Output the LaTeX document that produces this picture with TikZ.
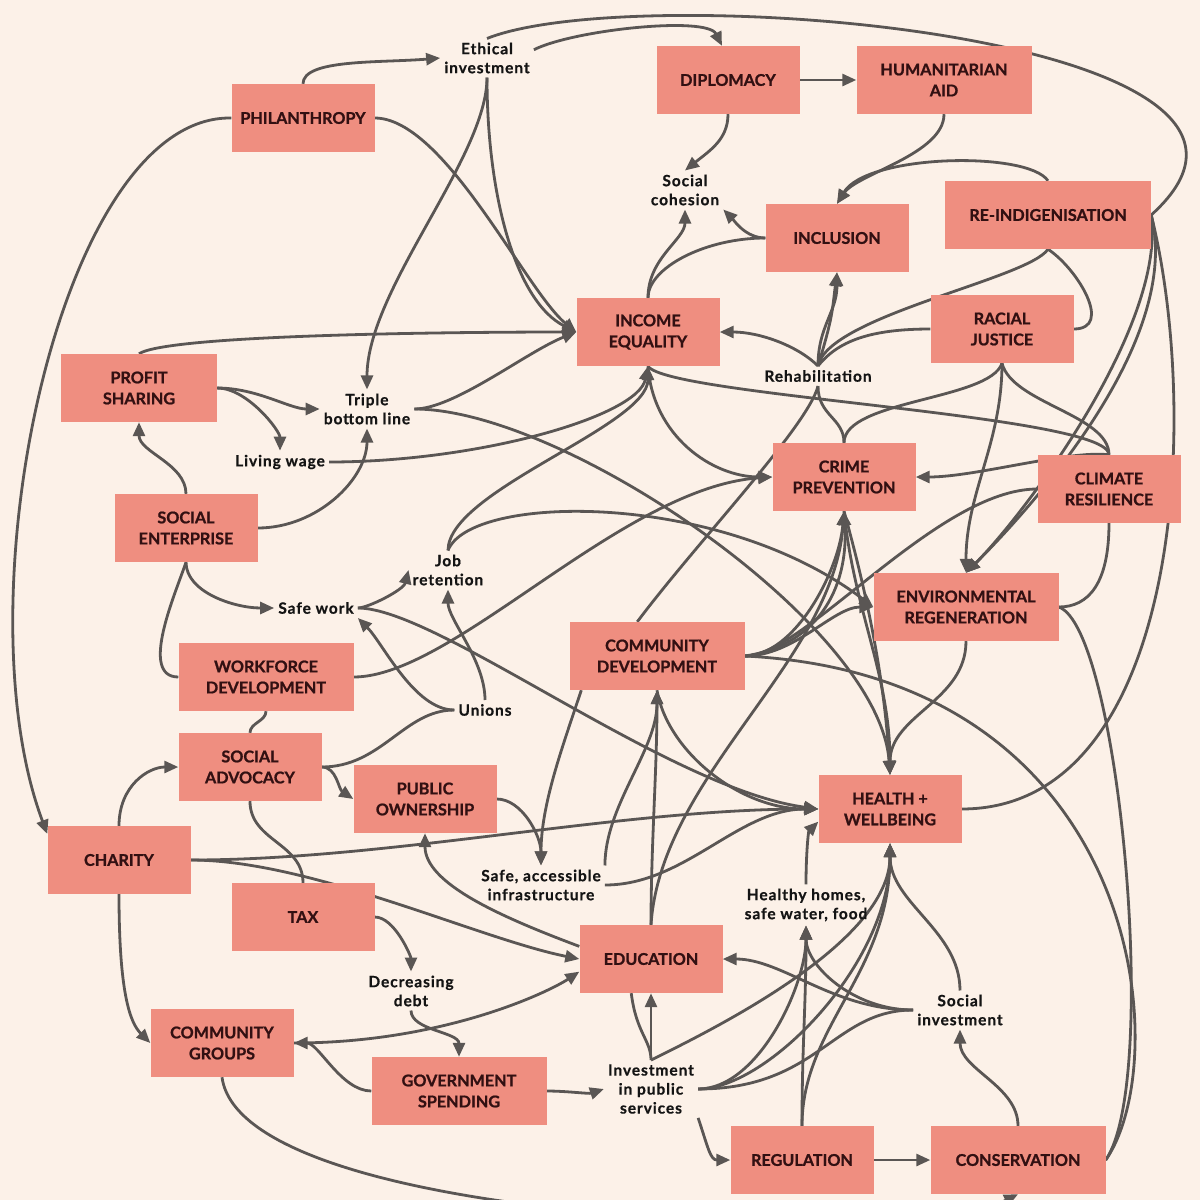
\documentclass[tikz,border=0pt]{standalone}
\usepackage{fontspec}
\setmainfont{Lato}
\usetikzlibrary{arrows.meta}
\definecolor{bgc}{RGB}{252,241,232}
\definecolor{boxc}{RGB}{239,142,128}
\definecolor{boxtext}{RGB}{50,16,18}
\definecolor{linec}{RGB}{90,86,84}
\pgfdeclarelayer{back}
\pgfdeclarelayer{links}
\pgfsetlayers{back,links,main}
\tikzset{
  box/.style={fill=boxc, text=boxtext, minimum width=143pt, minimum height=68pt,
    align=center, inner sep=0pt,
    font=\bfseries\addfontfeatures{FakeBold=1}\fontsize{16.2}{21}\selectfont},
  wbox/.style={box, minimum width=175pt},
  lab/.style={align=center, inner sep=4pt, text=black!92,
    font=\bfseries\addfontfeatures{LetterSpace=6,FakeBold=0.6}\fontsize{15.5}{19}\selectfont},
  link/.style={draw=linec, line width=2.8pt},
  arr/.style={link, -{Triangle[length=14pt,width=12pt]}}
}
\begin{document}
\begin{tikzpicture}[x=1pt,y=-1pt]
\begin{pgfonlayer}{back}
\fill[bgc] (0,0) rectangle (1200,1200);
\end{pgfonlayer}
\useasboundingbox (0,0) rectangle (1200,1200);
% boxes
\node[box] (phil) at (303,118) {PHILANTHROPY};
\node[box] (dipl) at (728,80) {DIPLOMACY};
\node[wbox] (human) at (944,80) {HUMANITARIAN\\AID};
\node[box] (incl) at (837,238) {INCLUSION};
\node[box, minimum width=206pt] (reind) at (1048,215) {RE-INDIGENISATION};
\node[box] (income) at (648,332) {INCOME\\EQUALITY};
\node[box] (racial) at (1002,329) {RACIAL\\JUSTICE};
\node[box, minimum width=156pt] (profit) at (139,388) {PROFIT\\SHARING};
\node[box] (crime) at (844,477) {CRIME\\PREVENTION};
\node[box] (climate) at (1109,489) {CLIMATE\\RESILIENCE};
\node[box] (socent) at (186,528) {SOCIAL\\ENTERPRISE};
\node[box, minimum width=185pt] (envreg) at (966,607) {ENVIRONMENTAL\\REGENERATION};
\node[wbox] (commdev) at (657,656) {COMMUNITY\\DEVELOPMENT};
\node[wbox] (workf) at (266,677) {WORKFORCE\\DEVELOPMENT};
\node[box] (socadv) at (250,767) {SOCIAL\\ADVOCACY};
\node[box] (pubown) at (425,799) {PUBLIC\\OWNERSHIP};
\node[box] (health) at (890,809) {HEALTH +\\WELLBEING};
\node[box] (charity) at (119,860) {CHARITY};
\node[box] (tax) at (303,917) {TAX};
\node[box] (educ) at (651,959) {EDUCATION};
\node[box] (commgr) at (222,1043) {COMMUNITY\\GROUPS};
\node[wbox] (govsp) at (459,1091) {GOVERNMENT\\SPENDING};
\node[box] (regul) at (802,1160) {REGULATION};
\node[wbox] (conserv) at (1018,1160) {CONSERVATION};
% plain labels
\node[lab] (ethic) at (487,58) {Ethical\\investment};
\node[lab] (cohes) at (685,190) {Social\\cohesion};
\node[lab] (triple) at (367,409) {Triple\\bottom line};
\node[lab] (living) at (280,462) {Living wage};
\node[lab] (rehab) at (818,376) {Rehabilitation};
\node[lab] (jobret) at (448,570) {Job\\retention};
\node[lab] (safework) at (316,608) {Safe work};
\node[lab] (unions) at (485,710) {Unions};
\node[lab] (infra) at (541,885) {Safe, accessible\\infrastructure};
\node[lab] (homes) at (806,905) {Healthy homes,\\safe water, food};
\node[lab] (debt) at (411,991) {Decreasing\\debt};
\node[lab] (socinv) at (960,1010) {Social\\investment};
\node[lab] (invpub) at (651,1089) {Investment\\in public\\services};
\begin{pgfonlayer}{links}
% top left
\draw[arr] (phil.north) .. controls +(0,-25) and +(-60,5) .. (ethic.west);
\draw[arr] (phil.west) .. controls +(-172,-3) and +(-88,-234) .. (charity.160);
\draw[arr] (phil.east) .. controls +(70,0) and +(-50,-40) .. (income.west);
\draw[arr] (ethic.south) .. controls +(0,80) and +(0,-100) .. (triple.north);
\draw[arr] (ethic.south) .. controls +(0,120) and +(-60,-30) .. (income.west);
\draw[arr] (ethic.10) .. controls +(40,-20) and +(-15,-30) .. (dipl.100);
\draw[link] (ethic.north) .. controls +(150,-60) and +(200,-180) .. (reind.east);
% top right
\draw[arr] (dipl.east) -- (human.west);
\draw[arr] (dipl.south) .. controls +(0,25) and +(25,-20) .. (cohes.north);
\draw[arr] (human.south) .. controls +(0,40) and +(20,-30) .. (incl.north);
\draw[arr] (reind.north) .. controls +(-20,-30) and +(30,-50) .. (incl.north);
\draw[arr] (incl.west) .. controls +(-20,0) and +(10,10) .. (cohes.south east);
\draw[arr] (income.north) .. controls +(0,-40) and +(0,30) .. (cohes.south);
\draw[link] (incl.west) .. controls +(-60,0) and +(0,-30) .. (income.north);
% rehabilitation
\draw[arr] (rehab.north) .. controls +(-20,-20) and +(40,0) .. (income.east);
\draw[arr] (rehab.north) .. controls +(0,-40) and +(0,40) .. (incl.south);
\draw[arr] (rehab.north) .. controls +(15,-50) and +(-5,40) .. (incl.south);
\draw[link] (racial.west) .. controls +(-60,0) and +(20,-25) .. (rehab.north);
\draw[link] (reind.south) .. controls +(-20,30) and +(10,-50) .. (rehab.north);
\draw[link] (reind.south) .. controls +(30,20) and +(40,0) .. (racial.east);
\draw[link] (rehab.south) .. controls +(0,30) and +(0,-25) .. (crime.north);
\draw[link] (racial.south) .. controls +(-12,37) and +(0,-43) .. (crime.north);
\draw[link] (commdev.120) .. controls +(60,-80) and +(-10,40) .. (rehab.south);
% right side
\draw[arr] (racial.south) .. controls +(0,80) and +(0,-80) .. (envreg.north);
\draw[link] (racial.south) .. controls +(10,40) and +(0,-40) .. (climate.north);
\draw[link] (income.south) .. controls +(20,30) and +(0,-40) .. (climate.north);
\draw[arr] (climate.north) .. controls +(-40,-5) and +(60,0) .. (crime.east);
\draw[arr] (reind.east) .. controls +(15,110) and +(60,-60) .. (envreg.north);
\draw[arr] (reind.east) .. controls +(30,120) and +(80,-80) .. (envreg.north);
\draw[link] (reind.east) .. controls +(50,200) and +(220,0) .. (health.east);
\draw[link] (climate.south) .. controls +(0,60) and +(30,0) .. (envreg.east);
\draw[link] (envreg.east) .. controls +(60,20) and +(55,-80) .. (conserv.east);
\draw[link] (commdev.east) .. controls +(400,20) and +(70,-100) .. (conserv.east);
\draw[arr] (envreg.south) .. controls +(0,60) and +(0,-60) .. (health.north);
\draw[arr] (crime.south) .. controls +(10,100) and +(0,-100) .. (health.north);
\draw[arr] (crime.south) .. controls +(25,90) and +(-5,-90) .. (health.north);
\draw[arr] (triple.east) .. controls +(150,0) and +(-10,-150) .. (health.north);
\draw[arr] (triple.east) .. controls +(40,0) and +(-50,20) .. (income.west);
\draw[arr] (commdev.east) .. controls +(50,0) and +(-5,60) .. (crime.south);
\draw[arr] (commdev.east) .. controls +(70,-10) and +(5,80) .. (crime.south);
\draw[arr] (commdev.east) .. controls +(50,0) and +(-40,0) .. (envreg.west);
\draw[link] (climate.west) .. controls +(-100,0) and +(60,0) .. (commdev.east);
% middle
\draw[arr] (jobret.north) .. controls +(22,-57) and +(-154,-117) .. (envreg.west);
\draw[arr] (jobret.north) .. controls +(0,-60) and +(0,60) .. (income.south);
\draw[arr] (living.east) .. controls +(150,0) and +(-10,50) .. (income.south);
\draw[arr] (income.south) .. controls +(5,70) and +(-60,0) .. (crime.west);
\draw[arr] (workf.east) .. controls +(100,0) and +(-150,10) .. (crime.west);
% left
\draw[arr] (profit.north) .. controls +(30,-20) and +(-100,0) .. (income.west);
\draw[arr] (profit.east) .. controls +(40,0) and +(-30,0) .. (triple.west);
\draw[arr] (profit.east) .. controls +(30,0) and +(0,-20) .. (living.north);
\draw[arr] (socent.north) .. controls +(0,-30) and +(0,30) .. (profit.south);
\draw[arr] (socent.east) .. controls +(60,0) and +(0,50) .. (triple.south);
\draw[arr] (socent.south) .. controls +(0,30) and +(-40,0) .. (safework.west);
\draw[link] (socent.south) .. controls +(-10,30) and +(-40,0) .. (workf.west);
\draw[link] (workf.south) .. controls +(0,10) and +(0,-10) .. (socadv.north);
\draw[arr] (safework.east) .. controls +(10,0) and +(-5,20) .. (jobret.west);
\draw[arr] (safework.east) .. controls +(80,0) and +(-150,-20) .. (health.west);
\draw[arr] (unions.west) .. controls +(-40,0) and +(25,25) .. (safework.south east);
\draw[arr] (unions.north) .. controls +(0,-40) and +(0,30) .. (jobret.south);
\draw[link] (socadv.east) .. controls +(60,0) and +(-50,0) .. (unions.west);
\draw[arr] (socadv.east) .. controls +(15,0) and +(-15,-10) .. (pubown.west);
\draw[link] (socadv.south) .. controls +(0,40) and +(0,-40) .. (tax.north);
\draw[arr] (charity.north) .. controls +(0,-40) and +(-30,0) .. (socadv.west);
\draw[arr] (charity.south) .. controls +(0,100) and +(-20,-20) .. (commgr.west);
\draw[arr] (charity.east) .. controls +(200,0) and +(-200,0) .. (health.west);
\draw[arr] (charity.east) .. controls +(120,0) and +(-100,-20) .. (educ.west);
% bottom
\draw[arr] (tax.east) .. controls +(20,0) and +(0,-15) .. (debt.north);
\draw[arr] (debt.south) .. controls +(0,20) and +(0,-25) .. (govsp.north);
\draw[arr] (govsp.west) .. controls +(-30,0) and +(25,0) .. (commgr.east);
\draw[arr] (commgr.east) .. controls +(150,0) and +(-30,20) .. (educ.190);
\draw[arr] (educ.170) .. controls +(-80,-30) and +(0,50) .. (pubown.south);
\draw[arr] (pubown.east) .. controls +(25,0) and +(0,-30) .. (infra.north);
\draw[arr] ([xshift=12pt]commdev.south west) .. controls +(-20,60) and +(0,-60) .. (infra.north);
\draw[arr] (infra.north east) .. controls +(0,-60) and +(0,60) .. (commdev.south);
\draw[arr] (infra.east) .. controls +(80,0) and +(-80,0) .. (health.west);
\draw[arr] (educ.north) .. controls +(0,-80) and +(0,80) .. (commdev.south);
\draw[arr] (educ.north) .. controls +(10,-150) and +(-10,150) .. (crime.south);
\draw[arr] (commdev.south) .. controls +(10,60) and +(-80,0) .. (health.west);
\draw[arr] (homes.north) .. controls +(0,-30) and +(-10,10) .. (health.190);
\draw[arr] (invpub.north) -- (educ.south);
\draw[link] (educ.240) .. controls +(5,40) and +(0,-20) .. (invpub.north);
\draw[arr] (invpub.north) .. controls +(60,-30) and +(0,100) .. (health.south);
\draw[arr] (invpub.east) .. controls +(70,0) and +(0,120) .. (health.south);
\draw[arr] (invpub.east) .. controls +(60,0) and +(0,60) .. (homes.south);
\draw[link] (invpub.east) .. controls +(120,0) and +(-80,0) .. (socinv.west);
\draw[arr] (invpub.south east) .. controls +(10,30) and +(-20,0) .. (regul.west);
\draw[arr] (govsp.east) .. controls +(20,0) and +(-15,5) .. (invpub.west);
\draw[arr] (regul.north) .. controls +(0,-80) and +(0,80) .. (homes.south);
\draw[arr] (regul.north) .. controls +(0,-100) and +(0,130) .. (health.south);
\draw[arr] (regul.east) -- (conserv.west);
\draw[arr] (conserv.north) .. controls +(0,-40) and +(0,40) .. (socinv.south);
\draw[arr] (socinv.north) .. controls +(0,-60) and +(0,60) .. (health.south);
\draw[arr] (socinv.west) .. controls +(-80,0) and +(60,0) .. (educ.east);
\draw[arr] (socinv.west) .. controls +(-60,0) and +(0,40) .. (homes.south);
\draw[arr] (commgr.south) .. controls +(20,150) and +(-100,50) .. (conserv.south);
\end{pgfonlayer}
\end{tikzpicture}
\end{document}
